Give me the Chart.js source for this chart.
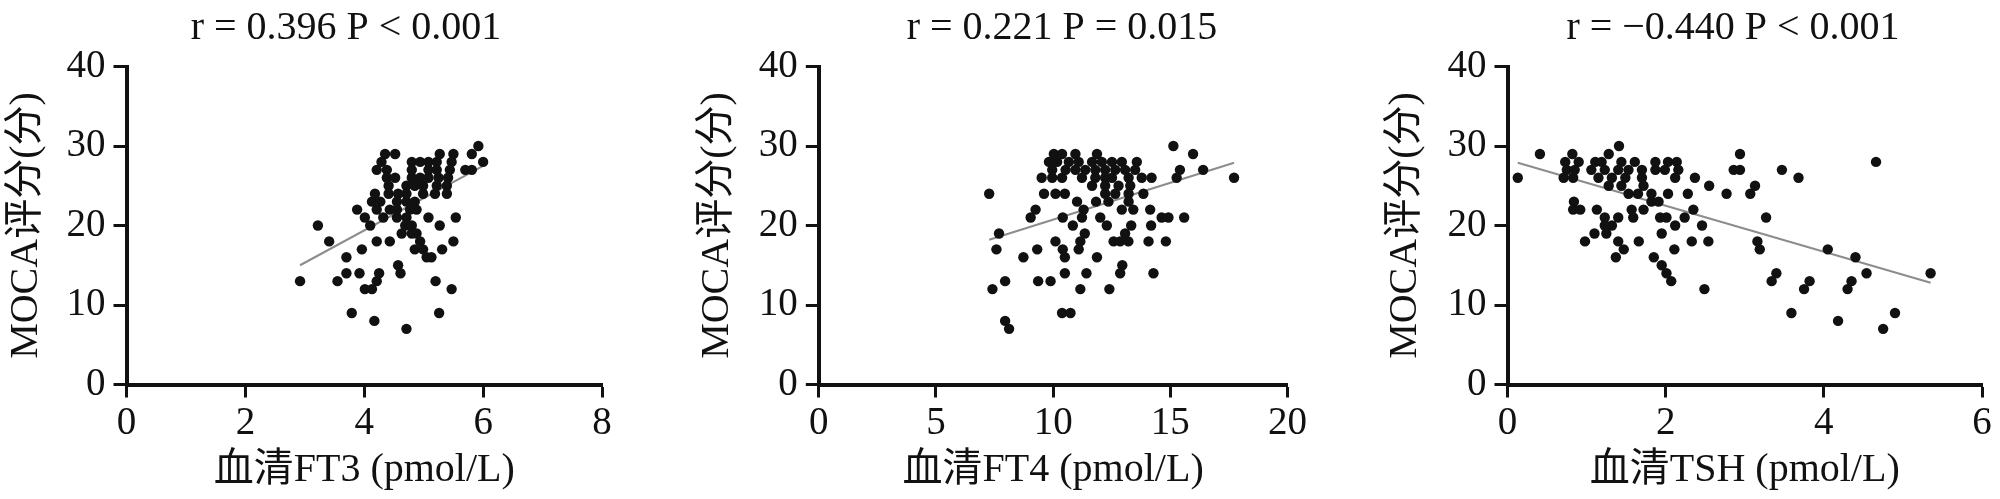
<!DOCTYPE html>
<html>
<head>
<meta charset="utf-8">
<script src="https://cdn.jsdelivr.net/npm/chart.js@4.4.1/dist/chart.umd.min.js"></script>
<style>
  html, body { margin: 0; padding: 0; background: #fff; overflow: hidden; }
  body { width: 2000px; height: 499px; position: relative; }
  canvas { position: absolute; top: 0; }
</style>
</head>
<body>
<canvas id="chart_ft3" width="622" height="499" style="left:0px"></canvas>
<canvas id="chart_ft4" width="619" height="499" style="left:691px"></canvas>
<canvas id="chart_tsh" width="621" height="499" style="left:1379px"></canvas>
<script>
// serum FT3 (pmol/L) and MOCA score, one row per score level
const ft3Values = [
  5.92,
  4.35, 4.52, 5.27, 5.50, 5.81,
  4.29, 4.80, 4.94, 5.08, 5.22, 5.47, 6.00,
  4.21, 4.38, 4.80, 5.08, 5.22, 5.44, 5.70, 5.81,
  4.38, 4.52, 4.80, 4.94, 5.08, 5.25, 5.41,
  4.41, 4.71, 4.85, 4.99, 5.22, 5.39,
  4.18, 4.41, 4.57, 4.71, 4.99, 5.19, 5.39,
  4.13, 4.27, 4.55, 4.71, 4.85,
  3.88, 4.21, 4.43, 4.55, 4.77, 4.88,
  4.01, 4.32, 4.55, 4.71, 5.08, 5.54,
  3.22, 4.10, 4.69, 4.80, 5.27,
  4.63, 4.80, 4.88,
  3.41, 4.21, 4.43, 4.94, 5.50,
  3.96, 4.85, 4.99, 5.31,
  3.70, 5.05, 5.13,
  4.57,
  3.70, 3.92, 4.25, 4.61,
  2.92, 3.55, 4.21, 5.20,
  4.01, 4.13, 5.47,
  3.79, 5.26,
  4.17,
  4.71
];
const ft3Moca = [
  30,
  29, 29, 29, 29, 29,
  28, 28, 28, 28, 28, 28, 28,
  27, 27, 27, 27, 27, 27, 27, 27,
  26, 26, 26, 26, 26, 26, 26,
  25, 25, 25, 25, 25, 25,
  24, 24, 24, 24, 24, 24, 24,
  23, 23, 23, 23, 23,
  22, 22, 22, 22, 22, 22,
  21, 21, 21, 21, 21, 21,
  20, 20, 20, 20, 20,
  19, 19, 19,
  18, 18, 18, 18, 18,
  17, 17, 17, 17,
  16, 16, 16,
  15,
  14, 14, 14, 14,
  13, 13, 13, 13,
  12, 12, 12,
  9, 9,
  8,
  7
];

// serum FT4 (pmol/L) and MOCA score
const ft4Values = [
  15.13,
  10.03, 10.38, 10.95, 11.87, 15.97,
  9.82, 10.17, 10.67, 11.09, 11.66, 12.08, 12.51, 12.93, 13.57,
  9.96, 10.53, 10.95, 11.37, 11.80, 12.22, 12.65, 13.07, 13.50, 15.41, 16.40,
  9.51, 9.96, 10.38, 11.23, 11.80, 12.22, 12.51, 13.22, 13.78, 14.20, 15.27, 17.72,
  11.66, 12.22, 12.79, 13.29,
  7.27, 9.61, 10.10, 10.50, 12.22, 12.65, 13.22, 13.85,
  11.02, 11.83, 12.36, 13.22,
  9.25, 11.30, 12.93, 13.42, 14.14,
  9.04, 10.41, 11.23, 12.01, 14.63, 14.92, 15.59,
  10.84, 12.29, 13.33, 14.18,
  7.69, 11.35, 13.07,
  10.10, 11.16, 12.58, 12.86, 13.21, 14.07, 14.81,
  7.58, 9.32, 10.41, 11.09,
  8.73, 10.50, 11.87,
  12.95,
  10.50, 11.42, 12.86, 14.28,
  7.95, 9.36, 9.89,
  7.41, 11.16, 12.40,
  10.38, 10.74,
  7.95,
  8.12
];
const ft4Moca = [
  30,
  29, 29, 29, 29, 29,
  28, 28, 28, 28, 28, 28, 28, 28, 28,
  27, 27, 27, 27, 27, 27, 27, 27, 27, 27, 27,
  26, 26, 26, 26, 26, 26, 26, 26, 26, 26, 26, 26,
  25, 25, 25, 25,
  24, 24, 24, 24, 24, 24, 24, 24,
  23, 23, 23, 23,
  22, 22, 22, 22, 22,
  21, 21, 21, 21, 21, 21, 21,
  20, 20, 20, 20,
  19, 19, 19,
  18, 18, 18, 18, 18, 18, 18,
  17, 17, 17, 17,
  16, 16, 16,
  15,
  14, 14, 14, 14,
  13, 13, 13,
  12, 12, 12,
  9, 9,
  8,
  7
];

// serum TSH and MOCA score
const tshValues = [
  1.41,
  0.41, 0.82, 1.28, 2.94,
  0.73, 0.90, 1.11, 1.19, 1.44, 1.61, 1.87, 2.03, 2.14, 4.66,
  0.75, 0.85, 1.06, 1.23, 1.40, 1.53, 1.70, 1.87, 1.99, 2.16, 2.86, 2.94, 3.47,
  0.13, 0.71, 0.83, 1.15, 1.32, 1.49, 1.70, 2.12, 2.37, 3.68,
  1.28, 1.44, 1.72, 2.55, 3.13,
  1.53, 1.65, 1.82, 2.03, 2.28, 2.77, 3.07,
  0.84, 1.82, 1.91,
  0.83, 0.92, 1.13, 1.57, 1.72, 2.35,
  1.23, 1.40, 1.59, 1.93, 2.01, 2.24, 3.27,
  1.23, 1.32, 2.12, 2.46,
  1.10, 1.25, 1.95,
  0.98, 1.40, 1.66, 2.33, 2.54, 3.16,
  1.47, 2.11, 3.19, 4.05,
  1.37, 1.85, 4.40,
  1.95,
  2.01, 3.40, 4.54, 5.35,
  2.07, 3.34, 3.82, 4.35,
  2.49, 3.75, 4.30,
  3.59, 4.90,
  4.18,
  4.75
];
const tshMoca = [
  30,
  29, 29, 29, 29,
  28, 28, 28, 28, 28, 28, 28, 28, 28, 28,
  27, 27, 27, 27, 27, 27, 27, 27, 27, 27, 27, 27, 27,
  26, 26, 26, 26, 26, 26, 26, 26, 26, 26,
  25, 25, 25, 25, 25,
  24, 24, 24, 24, 24, 24, 24,
  23, 23, 23,
  22, 22, 22, 22, 22, 22,
  21, 21, 21, 21, 21, 21, 21,
  20, 20, 20, 20,
  19, 19, 19,
  18, 18, 18, 18, 18, 18,
  17, 17, 17, 17,
  16, 16, 16,
  15,
  14, 14, 14, 14,
  13, 13, 13, 13,
  12, 12, 12,
  9, 9,
  8,
  7
];

// fitted line ends [x1, y1, x2, y2]
const ft3Fit = [2.92, 15.0, 6.00, 27.5];
const ft4Fit = [7.27, 18.2, 17.72, 27.9];
const tshFit = [0.13, 27.9, 5.35, 12.8];

const panelTitles = ['r = 0.396 P < 0.001', 'r = 0.221 P = 0.015', 'r = \u22120.440 P < 0.001'];
const xLabels = ['血清FT3 (pmol/L)', '血清FT4 (pmol/L)', '血清TSH (pmol/L)'];
const yLabel = 'MOCA评分(分)';
const xMaxes = [8, 20, 6];
const xSteps = [2, 5, 2];

const FONT = '"Liberation Serif", "Noto Sans CJK SC", serif';
const INK = '#111';
Chart.defaults.font.family = FONT;
Chart.defaults.color = INK;

// title text above each panel
const panelTitle = {
  id: 'panelTitle',
  afterDraw(chart, args, opts) {
    const ctx = chart.ctx;
    ctx.save();
    ctx.font = '40px ' + FONT;
    ctx.fillStyle = INK;
    ctx.textAlign = 'center';
    ctx.textBaseline = 'middle';
    ctx.fillText(opts.text, opts.x, opts.y);
    ctx.restore();
  }
};

function drawPanel(id, xs, ys, fit, idx, yWidth, padRight, titleX) {
  const ctx = document.getElementById(id);
  let points = [];
  for (let i = 0; i < xs.length; i++) {
    points.push({x: xs[i], y: ys[i]});
  }
  new Chart(ctx, {
    type: 'scatter',
    data: {
      datasets: [
        {
          data: points,
          backgroundColor: INK,
          borderWidth: 0,
          pointRadius: 5.2,
          pointHoverRadius: 5.2,
          order: 1
        },
        {
          data: [{x: fit[0], y: fit[1]}, {x: fit[2], y: fit[3]}],
          showLine: true,
          borderColor: '#8c8c8c',
          borderWidth: 2,
          pointRadius: 0,
          order: 2
        }
      ]
    },
    options: {
      responsive: false,
      animation: false,
      devicePixelRatio: 1,
      events: [],
      layout: { padding: { top: 66.5, right: padRight, bottom: 0, left: 0 } },
      plugins: {
        legend: { display: false },
        tooltip: { enabled: false },
        panelTitle: { text: panelTitles[idx], x: titleX, y: 28 }
      },
      scales: {
        x: {
          type: 'linear',
          min: 0,
          max: xMaxes[idx],
          ticks: { stepSize: xSteps[idx], font: { size: 39 }, padding: 3, color: INK },
          grid: { drawOnChartArea: false, drawTicks: true, tickLength: 13, tickWidth: 3, tickColor: INK },
          border: { display: true, color: INK, width: 4 },
          title: { display: true, text: xLabels[idx], font: { size: 40 }, color: INK, padding: { top: 0, bottom: 5 } },
          afterFit: (scale) => { scale.height = 114.5; }
        },
        y: {
          min: 0,
          max: 40,
          ticks: { stepSize: 10, font: { size: 39 }, padding: 8, color: INK },
          grid: { drawOnChartArea: false, drawTicks: true, tickLength: 13, tickWidth: 3, tickColor: INK },
          border: { display: true, color: INK, width: 4 },
          title: { display: true, text: yLabel, font: { size: 40 }, color: INK, padding: { top: 2.5, bottom: 0 } },
          afterFit: (scale) => { scale.width = yWidth; }
        }
      }
    },
    plugins: [panelTitle]
  });
}

drawPanel('chart_ft3', ft3Values, ft3Moca, ft3Fit, 0, 126.5, 20, 346);
drawPanel('chart_ft4', ft4Values, ft4Moca, ft4Fit, 1, 127.8, 20.2, 371);
drawPanel('chart_tsh', tshValues, tshMoca, tshFit, 2, 128.5, 18, 354);
</script>
</body>
</html>
